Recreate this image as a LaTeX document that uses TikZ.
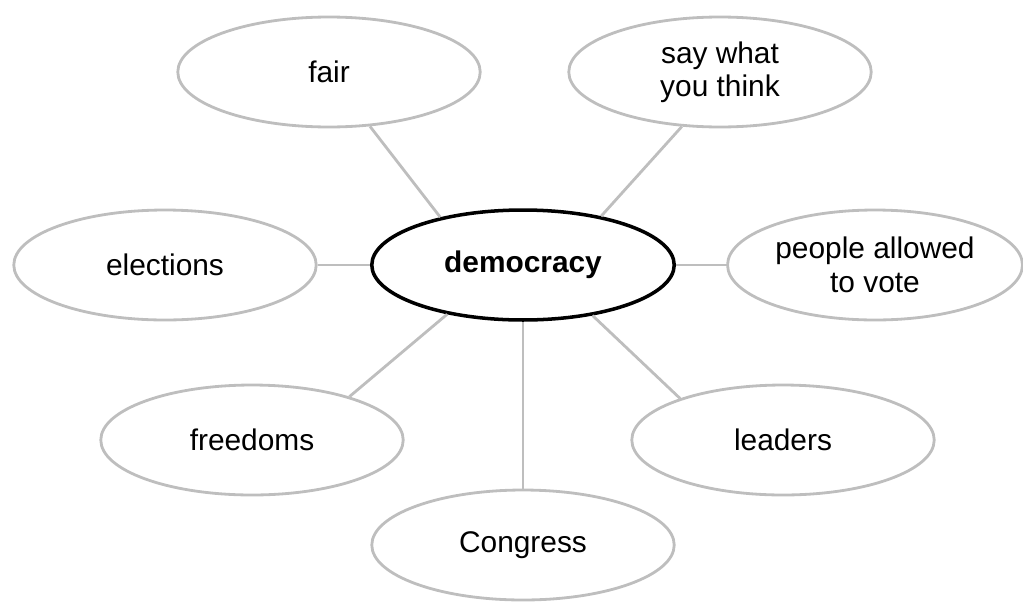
\documentclass[tikz,border=0pt]{standalone}
\usepackage{fontspec}
\setmainfont{Liberation Sans}
\usetikzlibrary{shapes.geometric}
\definecolor{bubblegrey}{RGB}{190,190,190}
\begin{document}
\begin{tikzpicture}[x=0.02cm,y=-0.02cm,
  bubble/.style={ellipse, draw=bubblegrey, line width=1.6pt, inner sep=0pt,
    minimum width=6.05cm, minimum height=2.2cm, align=center,
    font=\fontsize{17}{19}\selectfont},
  mainbubble/.style={bubble, draw=black, line width=2pt, font=\fontsize{17}{19}\selectfont\bfseries},
  spoke/.style={draw=bubblegrey, line width=1.6pt}]

\useasboundingbox (0,0) rectangle (1023,602);

%centro
\node[mainbubble] at (523,265) (democracy) {democracy};

%sopra
\node[bubble] at (329,72) (fair) {fair};
\node[bubble] at (720,72) (saywhat) {say what\\you think};

%ai lati
\node[bubble] at (165,265) (elections) {elections};
\node[bubble, minimum width=5.9cm] at (875,265) (people) {people allowed\\to vote};

%sotto
\node[bubble] at (252,440) (freedoms) {freedoms};
\node[bubble] at (783,440) (leaders) {leaders};
\node[bubble] at (523,545) (congress) {Congress};

% collegamenti
\draw[spoke] (fair.-53) -- (democracy.150);
\draw[spoke] (saywhat.-125) -- (democracy.32);
\draw[spoke] (elections.east) -- (democracy.west);
\draw[spoke] (democracy.east) -- (people.west);
\draw[spoke] (freedoms.24) -- (democracy.-147);
\draw[spoke] (leaders.158) -- (democracy.-36);
\draw[spoke] (democracy.south) -- (congress.north);

\end{tikzpicture}
\end{document}
